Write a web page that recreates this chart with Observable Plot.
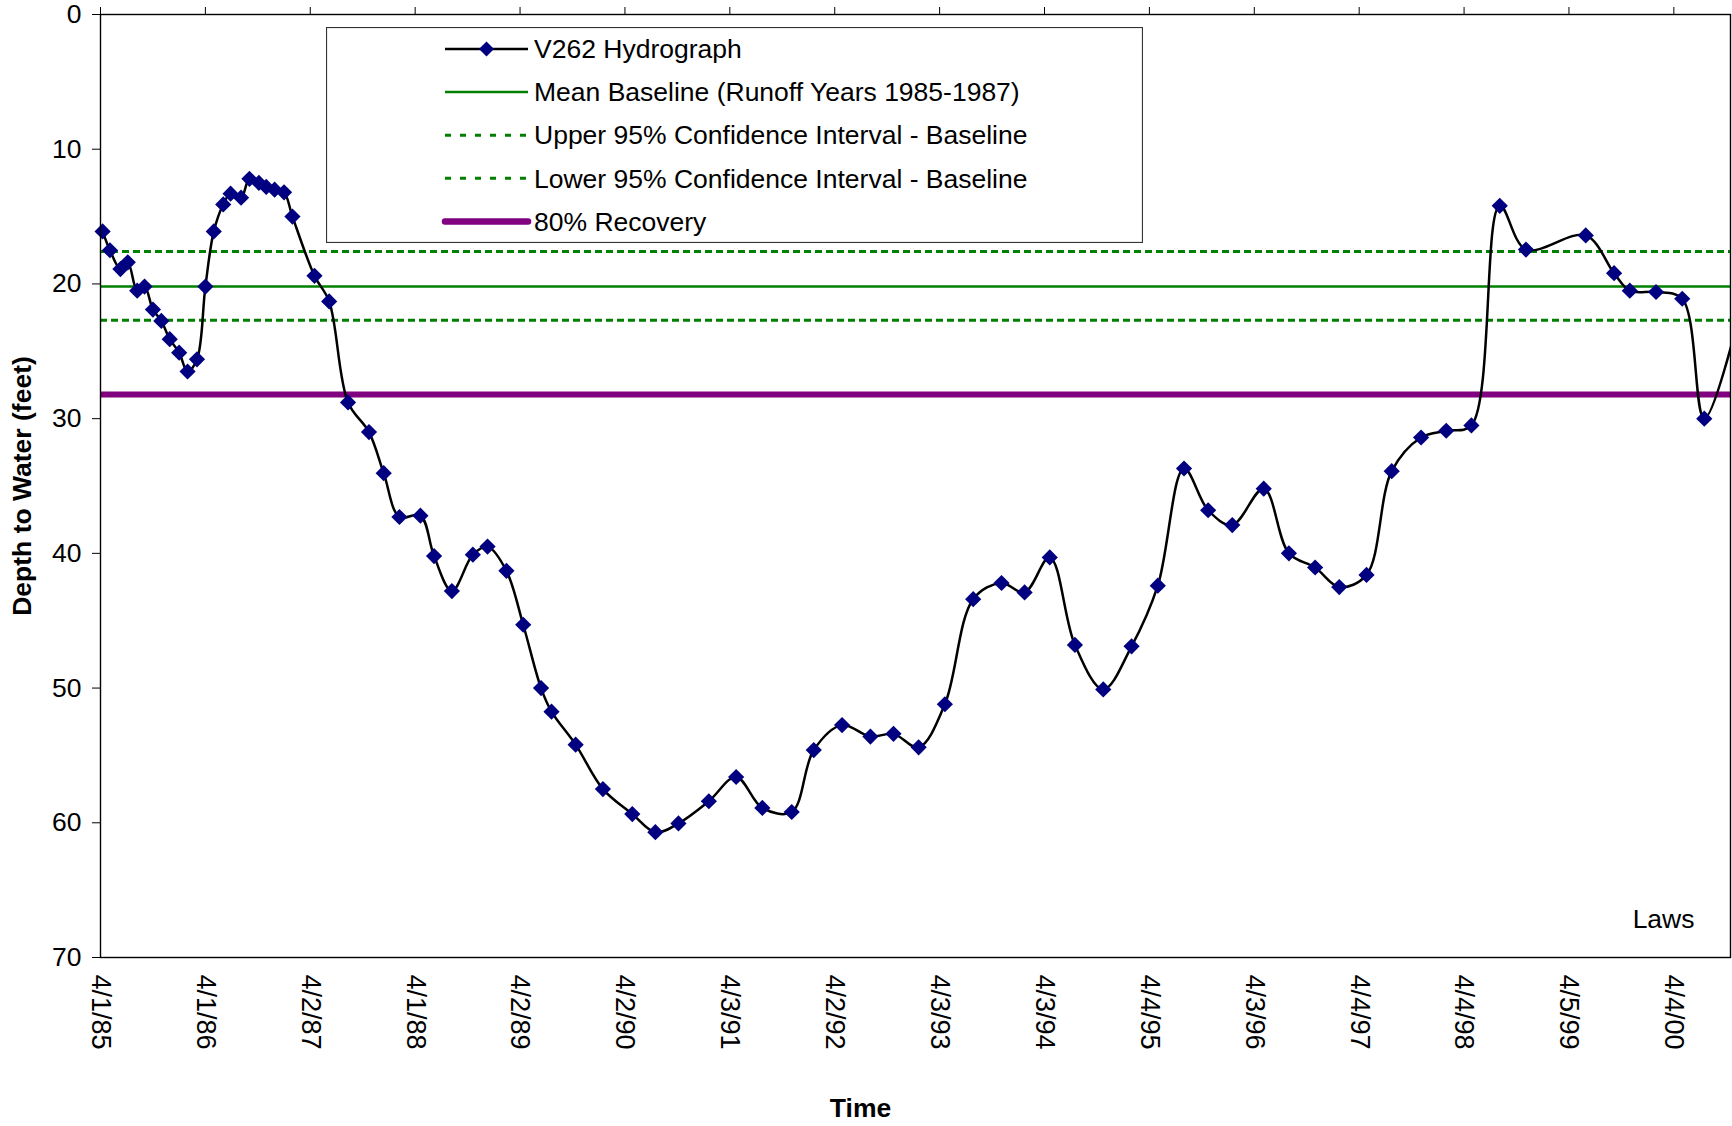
<!DOCTYPE html>
<html>
<head>
<meta charset="utf-8">
<script src="https://cdn.jsdelivr.net/npm/d3@7"></script>
<script src="https://cdn.jsdelivr.net/npm/@observablehq/plot@0.6"></script>
<style>
  html, body { margin: 0; padding: 0; background: #fff; }
  #wrap { position: relative; width: 1732px; height: 1126px; font-family: "Liberation Sans", Arial, sans-serif; }
  #legend { position: absolute; left: 326px; top: 27px; }
</style>
</head>
<body>
<div id="wrap"></div>
<script>
// ---- Data (years since 4/1/85, depth to water in feet) ----
const timeYears = [0.02,0.09,0.19,0.26,0.35,0.42,0.50,0.58,0.66,0.75,0.83,0.92,1.00,1.08,1.17,1.24,1.34,1.42,1.51,1.58,1.66,1.75,1.83,2.04,2.18,2.36,2.56,2.70,2.85,3.05,3.18,3.35,3.55,3.69,3.87,4.03,4.20,4.30,4.53,4.79,5.07,5.29,5.51,5.80,6.06,6.31,6.59,6.80,7.07,7.34,7.56,7.80,8.05,8.32,8.59,8.81,9.05,9.29,9.56,9.83,10.08,10.33,10.56,10.79,11.09,11.33,11.58,11.81,12.07,12.31,12.59,12.83,13.07,13.34,13.59,14.16,14.43,14.58,14.83,15.08,15.29,15.60];
const depthFeet = [16.1,17.5,18.9,18.4,20.5,20.2,21.9,22.75,24.1,25.1,26.5,25.6,20.2,16.1,14.1,13.3,13.6,12.2,12.5,12.8,13.0,13.2,15.0,19.4,21.3,28.8,31.0,34.05,37.3,37.2,40.2,42.8,40.1,39.5,41.3,45.3,50.0,51.75,54.2,57.5,59.35,60.7,60.05,58.4,56.6,58.9,59.2,54.6,52.75,53.6,53.4,54.4,51.2,43.4,42.2,42.9,40.3,46.8,50.1,46.9,42.4,33.7,36.8,37.9,35.2,40.0,41.05,42.5,41.6,33.9,31.4,30.9,30.5,14.2,17.45,16.4,19.2,20.5,20.6,21.1,30.0,23.0];

const meanBaseline = 20.2;
const upperCI = 17.6;
const lowerCI = 22.7;
const recovery80 = 28.2;

const xTickLabels = ["4/1/85","4/1/86","4/2/87","4/1/88","4/2/89","4/2/90","4/3/91","4/2/92","4/3/93","4/3/94","4/4/95","4/3/96","4/4/97","4/4/98","4/5/99","4/4/00"];
const xTickPositions = xTickLabels.map((_, i) => i);
const yTicks = [0, 10, 20, 30, 40, 50, 60, 70];
const xMax = 15.54;

const legendLabels = ["V262 Hydrograph","Mean Baseline (Runoff Years 1985-1987)","Upper 95% Confidence Interval - Baseline","Lower 95% Confidence Interval - Baseline","80% Recovery"];

const data = timeYears.map((t, i) => ({t, d: depthFeet[i]}));

const FONT = '"Liberation Sans", Arial, sans-serif';

const chart = Plot.plot({
  width: 1732,
  height: 1126,
  marginLeft: 100,
  marginRight: 2,
  marginTop: 14,
  marginBottom: 169,
  style: {fontFamily: FONT, fontSize: "26.5px", background: "#fff", color: "#000"},
  x: {domain: [0, xMax]},
  y: {domain: [0, 70], reverse: true},
  marks: [
    Plot.ruleY([upperCI], {stroke: "#008000", strokeWidth: 3, strokeDasharray: "7,4"}),
    Plot.ruleY([lowerCI], {stroke: "#008000", strokeWidth: 3, strokeDasharray: "7,4"}),
    Plot.ruleY([meanBaseline], {stroke: "#008000", strokeWidth: 2.5}),
    Plot.ruleY([recovery80], {stroke: "#800080", strokeWidth: 6}),
    Plot.line(data, {x: "t", y: "d", curve: "catmull-rom", stroke: "#000", strokeWidth: 2.5, clip: true}),
    Plot.dot(data, {x: "t", y: "d", filter: d => d.t <= xMax, symbol: "diamond2", r: 7.3, fill: "#000080", stroke: "none"}),
    Plot.frame({stroke: "#000", strokeWidth: 1.4}),
    Plot.axisY({ticks: yTicks, tickSize: 8, tickPadding: 11, fontSize: 26.5, label: null}),
    Plot.axisX({anchor: "top", ticks: xTickPositions, tickSize: 8, tickFormat: () => "", label: null}),
    Plot.axisX({anchor: "bottom", ticks: xTickPositions, tickSize: 0, tickPadding: 17, tickRotate: 90,
      tickFormat: d => xTickLabels[Math.round(d)], fontSize: 27, label: null}),
    Plot.text(["Laws"], {text: d => d, frameAnchor: "bottom-right", dx: -36, dy: -38, textAnchor: "end", lineAnchor: "middle", fontSize: 26.5}),
    Plot.text(["Time"], {text: d => d, frameAnchor: "bottom", dx: -55, dy: 151, textAnchor: "middle", lineAnchor: "middle", fontSize: 26.5, fontWeight: "bold"}),
    Plot.text(["Depth to Water (feet)"], {text: d => d, frameAnchor: "left", dx: -78, rotate: -90, textAnchor: "middle", lineAnchor: "middle", fontSize: 26.5, fontWeight: "bold"})
  ]
});

const wrap = document.getElementById("wrap");
wrap.appendChild(chart);

// ---- Legend overlay (inside plot area) ----
const LW = 817, LH = 216;
const legend = d3.create("svg").attr("id", "legend").attr("width", LW).attr("height", LH)
  .style("font-family", FONT).style("font-size", "26.5px");
legend.append("rect").attr("x", 0.5).attr("y", 0.5).attr("width", LW - 1).attr("height", LH - 1)
  .attr("fill", "#fff").attr("stroke", "#333").attr("stroke-width", 1.2);

const rowY = legendLabels.map((_, i) => 22 + i * 43.1);
const x0 = 119, x1 = 202, tx = 208;
const styles = [
  {stroke: "#000", w: 2.5, dash: null},
  {stroke: "#008000", w: 2.5, dash: null},
  {stroke: "#008000", w: 3, dash: "6,9"},
  {stroke: "#008000", w: 3, dash: "6,9"},
  {stroke: "#800080", w: 6.5, dash: null, cap: "round"}
];
legendLabels.forEach((lab, i) => {
  const s = styles[i];
  const ln = legend.append("line").attr("x1", x0).attr("x2", x1).attr("y1", rowY[i]).attr("y2", rowY[i])
    .attr("stroke", s.stroke).attr("stroke-width", s.w);
  if (s.dash) ln.attr("stroke-dasharray", s.dash);
  if (s.cap) ln.attr("stroke-linecap", s.cap);
  if (i === 0) {
    const cx = (x0 + x1) / 2, h = 7.5;
    legend.append("path").attr("d", `M${cx},${rowY[i]-h}L${cx+h},${rowY[i]}L${cx},${rowY[i]+h}L${cx-h},${rowY[i]}Z`).attr("fill", "#000080");
  }
  legend.append("text").attr("x", tx).attr("y", rowY[i]).attr("dy", "0.35em").attr("fill", "#000").text(lab);
});
wrap.appendChild(legend.node());
</script>
</body>
</html>
